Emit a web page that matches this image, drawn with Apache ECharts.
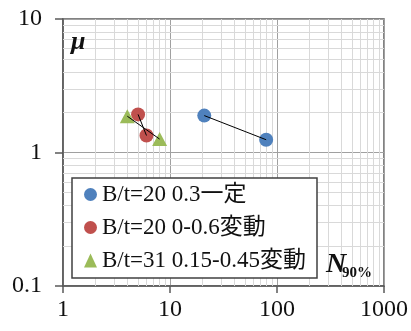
<!DOCTYPE html>
<html><head><meta charset="utf-8">
<script src="https://cdn.jsdelivr.net/npm/echarts@6/dist/echarts.min.js"></script>
<style>html,body{margin:0;padding:0;background:#fff}#c{width:411px;height:331px}</style>
</head><body><div id="c"></div>
<script>
var seriesNames = ['B/t=20 0.3一定', 'B/t=20 0-0.6変動', 'B/t=31 0.15-0.45変動'];
var blueX = [20.9, 79.2];
var blueY = [1.89, 1.246];
var redX = [5.03, 6.03];
var redY = [1.93, 1.34];
var greenX = [3.99, 8.0];
var greenY = [1.87, 1.26];
var xTicks = [1, 10, 100, 1000];
var yTicks = [0.1, 1, 10];
var minorMult = [2, 3, 4, 5, 6, 7, 8, 9];

function pairs(xs, ys) { return xs.map(function (x, i) { return [x, ys[i]]; }); }
var minorX = [], minorY = [];
[1, 10, 100].forEach(function (d) { minorMult.forEach(function (m) { minorX.push({ xAxis: d * m }); }); });
[0.1, 1].forEach(function (d) { minorMult.forEach(function (m) { minorY.push({ yAxis: +(d * m).toFixed(2) }); }); });

var font = "Liberation Serif";
var chart = echarts.init(document.getElementById('c'), null, { renderer: 'canvas' });
var lineStyleConn = { color: '#000', width: 1 };
chart.setOption({
  animation: false,
  grid: { left: 63, right: 27, top: 19, bottom: 45, show: true, borderColor: '#595959', borderWidth: 1.5, backgroundColor: 'transparent' },
  xAxis: {
    type: 'log', logBase: 10, min: xTicks[0], max: xTicks[xTicks.length - 1],
    axisLine: { show: true, lineStyle: { color: '#595959', width: 1.5 } },
    axisTick: { show: true, length: 7, lineStyle: { color: '#595959', width: 1.5 } },
    axisLabel: { show: true, margin: 12, fontSize: 24, fontFamily: font, color: '#111', showMinLabel: true, showMaxLabel: true, hideOverlap: false,
      formatter: function (v) { return String(v); } },
    splitLine: { show: true, lineStyle: { color: '#a0a0a0', width: 1 } },
    minorTick: { show: false }, minorSplitLine: { show: false }
  },
  yAxis: {
    type: 'log', logBase: 10, min: yTicks[0], max: yTicks[yTicks.length - 1],
    axisLine: { show: true, lineStyle: { color: '#595959', width: 1.5 } },
    axisTick: { show: true, length: 8, lineStyle: { color: '#595959', width: 1.5 } },
    axisLabel: { show: true, margin: 21, fontSize: 24, fontFamily: font, color: '#111', showMinLabel: true, showMaxLabel: true,
      formatter: function (v) { return String(v); } },
    splitLine: { show: true, lineStyle: { color: '#a0a0a0', width: 1 } }
  },
  legend: {
    orient: 'vertical', left: 72, top: 178, z: 50, zlevel: 0,
    padding: [5, 11, 6, 12], itemGap: 10, itemWidth: 13, itemHeight: 14,
    backgroundColor: '#fff', borderColor: '#404040', borderWidth: 1.5,
    textStyle: { fontFamily: "Liberation Serif, Noto Sans CJK JP, serif", fontSize: 23, lineHeight: 23, color: '#111' },
    data: [
      { name: seriesNames[0], icon: 'circle' },
      { name: seriesNames[1], icon: 'circle' },
      { name: seriesNames[2], icon: 'triangle' }
    ]
  },
  series: [
    { type: 'line', data: [], silent: true, z: 1,
      markLine: { silent: true, symbol: 'none', animation: false, label: { show: false }, z: 1,
        lineStyle: { color: '#d9d9d9', width: 1, type: 'solid' }, data: minorX.concat(minorY) } },
    { name: seriesNames[0], type: 'scatter', data: pairs(blueX, blueY), symbol: 'circle', symbolSize: 14, itemStyle: { color: '#4F81BD', opacity: 1 }, z: 3 },
    { name: seriesNames[1], type: 'scatter', data: pairs(redX, redY), symbol: 'circle', symbolSize: 14, itemStyle: { color: '#C0504D', opacity: 1 }, z: 3 },
    { name: seriesNames[2], type: 'scatter', data: pairs(greenX, greenY), symbol: 'triangle', symbolSize: [15, 14], itemStyle: { color: '#9BBB59', opacity: 1 }, z: 3 },
    { type: 'line', data: pairs(blueX, blueY), showSymbol: false, symbol: 'none', lineStyle: lineStyleConn, z: 4, silent: true },
    { type: 'line', data: pairs(redX, redY), showSymbol: false, symbol: 'none', lineStyle: lineStyleConn, z: 4, silent: true },
    { type: 'line', data: pairs(greenX, greenY), showSymbol: false, symbol: 'none', lineStyle: lineStyleConn, z: 4, silent: true }
  ],
  graphic: [
    { type: 'text', x: 71, y: 42, z: 10, style: { text: 'μ', font: "italic bold 26px 'Liberation Serif', serif", fill: '#111', verticalAlign: 'middle' } },
    { type: 'text', x: 326, y: 265, z: 10, style: { text: 'N', font: "italic bold 28px 'Liberation Serif', serif", fill: '#111', verticalAlign: 'middle' } },
    { type: 'text', x: 342, y: 273, z: 10, style: { text: '90%', font: "bold 15px 'Liberation Serif', serif", fill: '#111', verticalAlign: 'middle' } }
  ]
});
</script></body></html>
